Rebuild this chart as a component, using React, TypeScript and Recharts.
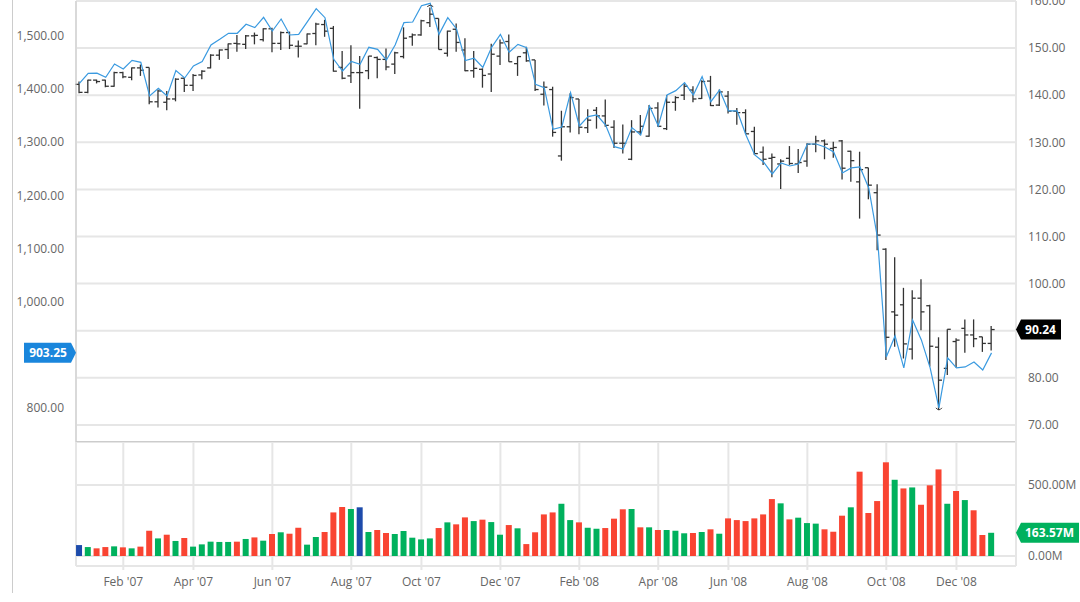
import {
  Bar,
  BarChart,
  CartesianGrid,
  Cell,
  ComposedChart,
  Line,
  ReferenceDot,
  XAxis,
  YAxis,
} from 'recharts';

const monthTicks = [5, 13, 22, 31, 39, 48, 57, 66, 74, 83, 92, 100];
const monthLabels = [
  "Feb '07", "Apr '07", "Jun '07", "Aug '07", "Oct '07", "Dec '07",
  "Feb '08", "Apr '08", "Jun '08", "Aug '08", "Oct '08", "Dec '08",
];

const indexTicks = [800, 1000, 1100, 1200, 1300, 1400, 1500];
const priceTicks = [70, 80, 90, 100, 110, 120, 130, 140, 150, 160];
const volumeTicks = [0, 500];

// weekly index line, left axis
const indexValues = [
  1410.9, 1429.7, 1430.0, 1422.2, 1447.3, 1437.9, 1454.2, 1450.4, 1387.0, 1401.5,
  1387.0, 1434.8, 1420.9, 1443.5, 1451.7, 1483.1, 1493.7, 1505.1, 1505.1, 1522.0,
  1515.7, 1535.2, 1509.4, 1532.0, 1501.9, 1503.1, 1527.0, 1551.5, 1534.5, 1456.1,
  1434.1, 1452.3, 1446.7, 1478.7, 1474.9, 1454.8, 1483.1, 1525.1, 1526.4, 1557.1,
  1561.5, 1503.1, 1534.5, 1513.2, 1453.6, 1458.0, 1441.0, 1478.7, 1503.1, 1469.3,
  1484.3, 1478.0, 1409.0, 1402.7, 1324.2, 1328.6, 1393.3, 1330.5, 1348.1, 1351.2,
  1332.4, 1291.6, 1287.2, 1327.4, 1313.6, 1368.2, 1330.5, 1388.9, 1397.1, 1412.1,
  1388.9, 1423.4, 1376.3, 1398.3, 1358.8, 1358.8, 1313.6, 1275.9, 1262.7, 1240.2,
  1260.9, 1255.2, 1259.0, 1296.6, 1296.6, 1291.0, 1281.6, 1242.0, 1251.5, 1253.3,
  1213.8, 1119.6, 895.6, 935.1, 874.9, 965.2, 927.6, 874.9, 799.5, 893.7,
  874.9, 876.8, 886.1, 871.1, 903.25,
];

// weekly bars, right axis
const opens = [
  142.3, 140.6, 143.2, 143.2, 141.9, 144.8, 143.8, 145.8, 145.9, 138.6,
  138.5, 139.2, 143.6, 142.1, 144.3, 145.8, 148.5, 149.7, 151.0, 150.8,
  152.6, 151.8, 154.1, 151.0, 153.3, 150.4, 150.9, 153.1, 155.0, 154.2,
  145.9, 144.1, 144.8, 145.2, 148.0, 147.6, 146.6, 148.2, 152.4, 152.8,
  155.4, 156.3, 148.9, 154.0, 149.6, 145.2, 145.5, 144.5, 148.3, 151.4,
  146.7, 149.0, 147.5, 140.2, 141.2, 127.1, 133.3, 139.2, 133.1, 136.8,
  135.6, 133.2, 129.8, 126.4, 132.2, 131.3, 137.3, 132.9, 138.5, 140.0,
  141.1, 139.3, 143.0, 137.9, 139.8, 136.6, 136.3, 132.3, 127.9, 126.6,
  125.4, 126.6, 125.4, 126.0, 129.6, 130.3, 128.7, 130.3, 128.1, 121.6,
  124.6, 119.3, 107.3, 94.0, 95.5, 86.1, 96.9, 95.3, 86.5, 82.0,
  87.7, 90.5, 89.1, 88.7, 87.3,
];
const highs = [
  142.9, 143.3, 143.3, 143.3, 145.0, 145.0, 145.9, 146.5, 145.9, 141.2,
  140.9, 143.6, 143.8, 144.5, 145.3, 148.7, 149.7, 151.0, 152.8, 152.8,
  153.3, 154.2, 154.3, 153.5, 153.5, 151.6, 153.1, 155.4, 156.0, 154.7,
  149.4, 150.6, 148.3, 148.3, 148.2, 149.9, 149.2, 154.4, 153.1, 156.0,
  158.6, 156.3, 153.7, 155.2, 152.1, 149.4, 145.7, 150.9, 151.8, 152.9,
  148.2, 150.3, 147.5, 142.9, 141.8, 136.7, 140.4, 139.2, 137.0, 137.5,
  139.1, 134.7, 133.8, 134.7, 135.8, 137.9, 138.5, 140.0, 139.8, 142.5,
  141.9, 143.2, 144.1, 141.2, 140.9, 137.3, 137.0, 133.3, 129.1, 127.6,
  126.4, 129.2, 128.6, 129.8, 131.4, 130.6, 130.1, 130.5, 128.2, 128.0,
  124.6, 121.1, 107.5, 105.6, 99.1, 98.6, 100.9, 95.5, 88.6, 90.3,
  88.4, 92.4, 92.4, 88.7, 91.0,
];
const lows = [
  140.4, 140.4, 142.5, 141.7, 141.8, 143.6, 143.2, 144.1, 138.1, 137.4,
  136.8, 138.7, 140.7, 140.9, 143.4, 145.7, 147.5, 147.7, 149.2, 149.8,
  150.8, 151.4, 149.1, 149.6, 149.8, 148.0, 150.8, 150.6, 152.4, 145.0,
  143.4, 142.6, 137.1, 143.4, 143.6, 145.3, 144.5, 147.8, 150.5, 152.6,
  154.5, 149.7, 148.2, 149.2, 145.1, 143.7, 141.6, 140.7, 146.4, 147.1,
  144.1, 147.1, 140.9, 137.8, 131.2, 126.1, 132.1, 131.7, 132.0, 132.9,
  133.3, 128.8, 127.6, 126.2, 131.5, 131.2, 133.3, 132.6, 136.7, 139.0,
  138.5, 139.2, 137.7, 137.7, 136.1, 133.7, 131.8, 127.3, 125.2, 122.6,
  120.1, 125.2, 123.5, 124.8, 127.9, 126.4, 126.7, 122.1, 121.6, 113.8,
  117.9, 107.1, 83.8, 86.6, 84.1, 83.9, 90.1, 82.4, 73.2, 80.6,
  82.2, 85.3, 86.5, 85.5, 85.8,
];
const closes = [
  140.6, 143.2, 142.9, 141.9, 144.8, 143.9, 145.8, 145.3, 138.6, 140.9,
  139.2, 143.4, 142.1, 144.2, 145.1, 148.5, 149.6, 150.9, 150.9, 152.6,
  152.7, 154.1, 151.0, 153.3, 150.6, 150.4, 153.0, 155.1, 153.6, 145.1,
  143.6, 144.8, 144.8, 148.3, 147.6, 146.0, 149.0, 152.1, 152.8, 155.8,
  157.2, 149.7, 153.6, 151.2, 145.2, 145.7, 144.2, 148.7, 151.1, 147.1,
  148.2, 147.3, 141.2, 141.7, 132.1, 133.3, 139.5, 133.2, 134.7, 135.6,
  133.6, 129.8, 129.8, 132.2, 133.4, 137.2, 133.4, 138.5, 139.5, 141.9,
  139.2, 142.9, 137.8, 140.7, 136.6, 136.3, 131.8, 127.6, 126.4, 126.8,
  126.0, 125.5, 125.7, 129.6, 130.3, 129.6, 128.9, 124.5, 126.1, 124.2,
  120.9, 110.3, 88.6, 93.3, 87.2, 96.9, 94.0, 86.7, 79.5, 90.3,
  88.0, 89.1, 88.3, 87.3, 90.24,
];

// weekly volume in millions, bottom panel
const volumes = [
  77, 63, 54, 63, 68, 61, 54, 66, 178, 124,
  150, 106, 127, 66, 82, 101, 99, 99, 101, 120,
  131, 108, 155, 167, 157, 199, 80, 134, 169, 307,
  345, 331, 343, 169, 183, 162, 155, 176, 129, 117,
  124, 197, 237, 223, 272, 246, 256, 239, 150, 218,
  195, 84, 167, 293, 307, 368, 253, 237, 199, 192,
  197, 263, 329, 331, 202, 202, 183, 183, 178, 160,
  162, 169, 188, 157, 265, 253, 246, 265, 293, 401,
  371, 258, 270, 232, 228, 188, 171, 284, 343, 594,
  303, 387, 660, 537, 476, 483, 361, 498, 610, 368,
  458, 394, 322, 148, 163.57,
];
const volumeSides = [
  'b', 'g', 'r', 'r', 'g', 'r', 'g', 'r', 'r', 'g',
  'r', 'g', 'r', 'g', 'g', 'g', 'g', 'g', 'r', 'g',
  'r', 'g', 'r', 'g', 'r', 'r', 'g', 'g', 'r', 'r',
  'r', 'g', 'b', 'g', 'r', 'r', 'g', 'g', 'g', 'g',
  'g', 'r', 'g', 'r', 'r', 'g', 'r', 'g', 'g', 'r',
  'g', 'r', 'r', 'r', 'r', 'g', 'g', 'r', 'g', 'g',
  'r', 'r', 'r', 'g', 'r', 'g', 'r', 'g', 'g', 'g',
  'r', 'g', 'r', 'g', 'r', 'r', 'r', 'r', 'r', 'r',
  'g', 'r', 'g', 'g', 'g', 'r', 'r', 'r', 'g', 'r',
  'r', 'r', 'r', 'g', 'r', 'g', 'r', 'r', 'r', 'g',
  'r', 'g', 'r', 'r', 'g',
];

const sideColors: Record<string, string> = { r: '#f94432', g: '#00b15d', b: '#1d4bab' };

const priceRows = indexValues.map((index, week) => ({
  week,
  index,
  open: opens[week],
  close: closes[week],
  range: [lows[week], highs[week]],
}));
const volumeRows = volumes.map((volume, week) => ({ week, volume }));

const weekDomain = [-0.39, 106.79];
const gridColor = '#e6e6e6';
const tickStyle = { fontFamily: '"Open Sans"', fontSize: 12, fill: '#666' };

const two = (v: number) =>
  v.toLocaleString('en-US', { minimumFractionDigits: 2, maximumFractionDigits: 2 });

const OhlcMark = (props: any) => {
  const { x, y, width, height, payload } = props;
  const [low, high] = payload.range;
  const mid = x + width / 2;
  const at = (v: number) => y + ((high - v) / (high - low)) * height;
  return (
    <g stroke="#333" strokeWidth={1.3} fill="none">
      <line x1={mid} x2={mid} y1={y} y2={y + height} />
      <line x1={mid - 3.5} x2={mid} y1={at(payload.open)} y2={at(payload.open)} />
      <line x1={mid} x2={mid + 3.5} y1={at(payload.close)} y2={at(payload.close)} />
    </g>
  );
};

const tag = (text: string, color: string, w: number, side: 'left' | 'right') => (props: any) => {
  const { cx, cy } = props;
  const h = 20;
  const tip = 5;
  const path =
    side === 'left'
      ? `M${cx - w},${cy - h / 2} H${cx - tip} L${cx},${cy} L${cx - tip},${cy + h / 2} H${cx - w} Z`
      : `M${cx},${cy} L${cx + tip},${cy - h / 2} H${cx + w} V${cy + h / 2} H${cx + tip} Z`;
  return (
    <g>
      <path d={path} fill={color} />
      <text
        x={side === 'left' ? cx - w / 2 - 2 : cx + w / 2 + 2}
        y={cy + 4}
        textAnchor="middle"
        fontFamily='"Open Sans"'
        fontSize={12}
        fontWeight={700}
        fill="#fff"
      >
        {text}
      </text>
    </g>
  );
};

const arc = (up: boolean) => (props: any) => {
  const { cx, cy } = props;
  const d = up
    ? `M${cx - 3},${cy - 1} Q${cx},${cy - 4} ${cx + 3},${cy - 1}`
    : `M${cx - 3},${cy - 2} Q${cx},${cy + 2} ${cx + 3},${cy - 2}`;
  return <path d={d} stroke="#333" fill="none" strokeWidth={1} />;
};

export default function App() {
  return (
    <div style={{ position: 'absolute', left: 0, top: 0, width: 1080, height: 602, background: '#fff', overflow: 'hidden' }}>
      <div style={{ position: 'absolute', left: 12, top: 0, width: 1, height: 593, background: '#ccc' }} />

      <div style={{ position: 'absolute', left: 0, top: 0 }}>
        <ComposedChart
          width={1080}
          height={443}
          data={priceRows}
          margin={{ top: 1, right: 0, bottom: 0, left: 0 }}
        >
          <CartesianGrid yAxisId="price" stroke={gridColor} strokeWidth={2} />
          <XAxis
            dataKey="week"
            type="number"
            domain={weekDomain}
            ticks={monthTicks}
            tick={false}
            tickLine={false}
            height={1}
            axisLine={{ stroke: '#ccc', strokeWidth: 2 }}
          />
          <YAxis
            yAxisId="index"
            orientation="left"
            width={76}
            domain={[735.4, 1565.9]}
            ticks={indexTicks}
            tickFormatter={two}
            tick={tickStyle}
            tickLine={false}
            tickMargin={6}
            interval={0}
            axisLine={{ stroke: '#ccc' }}
          />
          <YAxis
            yAxisId="price"
            orientation="right"
            width={64}
            domain={[66.37, 160]}
            ticks={priceTicks}
            tickFormatter={(v: number) => (v === 90 ? '' : two(v))}
            tick={tickStyle}
            tickLine={false}
            tickMargin={6}
            interval={0}
            axisLine={{ stroke: gridColor, strokeWidth: 2 }}
          />
          <Bar yAxisId="price" dataKey="range" barSize={6} shape={OhlcMark} isAnimationActive={false} />
          <Line
            yAxisId="index"
            dataKey="index"
            type="linear"
            stroke="#3a9ae0"
            strokeWidth={1.2}
            dot={false}
            isAnimationActive={false}
          />
          <ReferenceDot yAxisId="price" x={40} y={highs[40]} shape={arc(true)} ifOverflow="visible" />
          <ReferenceDot yAxisId="price" x={98} y={lows[98]} shape={arc(false)} ifOverflow="visible" />
          <ReferenceDot
            yAxisId="index"
            x={weekDomain[0]}
            y={indexValues[104]}
            shape={tag(two(indexValues[104]), '#1a86dc', 52, 'left')}
            ifOverflow="visible"
          />
          <ReferenceDot
            yAxisId="price"
            x={weekDomain[1]}
            y={closes[104]}
            shape={tag(two(closes[104]), '#000', 45, 'right')}
            ifOverflow="visible"
          />
        </ComposedChart>
      </div>

      <div style={{ position: 'absolute', left: 0, top: 442 }}>
        <BarChart
          width={1080}
          height={160}
          data={volumeRows}
          margin={{ top: 0, right: 0, bottom: 0, left: 76 }}
        >
          <CartesianGrid yAxisId="volume" stroke={gridColor} strokeWidth={2} />
          <XAxis
            dataKey="week"
            type="number"
            domain={weekDomain}
            ticks={monthTicks}
            tickFormatter={(v: number) => monthLabels[monthTicks.indexOf(v)]}
            tick={tickStyle}
            interval={0}
            height={36}
            tickSize={4}
            tickMargin={7}
            tickLine={{ stroke: gridColor, strokeWidth: 2 }}
            axisLine={{ stroke: gridColor, strokeWidth: 2 }}
          />
          <YAxis
            yAxisId="volume"
            orientation="right"
            width={64}
            domain={[-70.4, 803]}
            ticks={volumeTicks}
            tickFormatter={(v: number) => `${two(v)}M`}
            tick={tickStyle}
            tickLine={false}
            tickMargin={6}
            interval={0}
            axisLine={{ stroke: gridColor, strokeWidth: 2 }}
          />
          <Bar yAxisId="volume" dataKey="volume" barSize={6} isAnimationActive={false}>
            {volumeSides.map((side, i) => (
              <Cell key={i} fill={sideColors[side]} />
            ))}
          </Bar>
          <ReferenceDot
            yAxisId="volume"
            x={weekDomain[1]}
            y={volumes[104]}
            shape={tag(`${two(volumes[104])}M`, '#00b15d', 63, 'right')}
            ifOverflow="visible"
          />
        </BarChart>
      </div>
    </div>
  );
}
